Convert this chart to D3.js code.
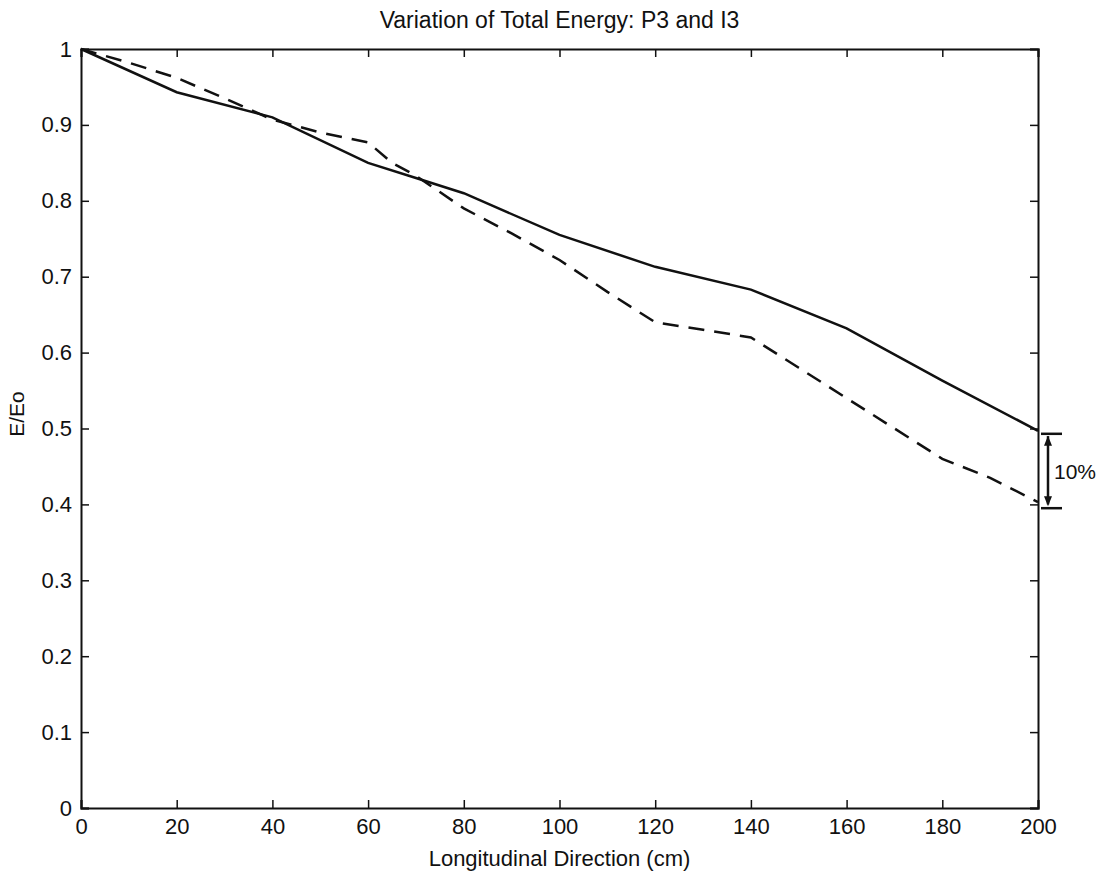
<!DOCTYPE html>
<html>
<head>
<meta charset="utf-8">
<script src="https://cdn.jsdelivr.net/npm/d3@7"></script>
<style>
  body { margin: 0; background: #fff; }
  text { font-family: "Liberation Sans", Arial, sans-serif; fill: #111; }
</style>
</head>
<body>
<svg width="1102" height="876"></svg>
<script>
// solid curve
const solidX = [0, 20, 40, 60, 70, 80, 100, 120, 140, 160, 180, 200];
const solidY = [1.0, 0.943, 0.91, 0.85, 0.83, 0.81, 0.755, 0.713, 0.683, 0.632, 0.563, 0.497];
// dashed curve
const dashX = [0, 10, 20, 30, 40, 50, 60, 65, 70, 80, 90, 100, 110, 120, 130, 140, 150, 160, 170, 180, 190, 200];
const dashY = [1.0, 0.982, 0.962, 0.935, 0.907, 0.89, 0.877, 0.85, 0.833, 0.79, 0.757, 0.722, 0.68, 0.64, 0.63, 0.62, 0.58, 0.54, 0.5, 0.46, 0.435, 0.403];
const xTicks = [0, 20, 40, 60, 80, 100, 120, 140, 160, 180, 200];
const yTicks = [0, 0.1, 0.2, 0.3, 0.4, 0.5, 0.6, 0.7, 0.8, 0.9, 1];

const svg = d3.select('svg');
const width = +svg.attr('width');
const height = +svg.attr('height');
const margin = {left: 81, right: 64, top: 49, bottom: 68};

const x = d3.scaleLinear().domain([0, 200]).range([margin.left, width - margin.right]);
const y = d3.scaleLinear().domain([0, 1]).range([height - margin.bottom, margin.top]);

const fmt = d => d === 0 || d === 1 ? String(d) : d3.format('.1f')(d);

// axes with inward ticks on all four sides
svg.append('g')
    .attr('transform', `translate(0,${y(0)})`)
    .call(d3.axisBottom(x).tickValues(xTicks).tickSize(-8).tickPadding(10))
    .call(g => g.selectAll('text').attr('font-size', 22));
svg.append('g')
    .attr('transform', `translate(0,${y(1)})`)
    .call(d3.axisTop(x).tickValues(xTicks).tickSize(-8).tickFormat(''));
svg.append('g')
    .attr('transform', `translate(${x(0)},0)`)
    .call(d3.axisLeft(y).tickValues(yTicks).tickSize(-8).tickPadding(9).tickFormat(fmt))
    .call(g => g.selectAll('text').attr('font-size', 22));
svg.append('g')
    .attr('transform', `translate(${x(200)},0)`)
    .call(d3.axisRight(y).tickValues(yTicks).tickSize(-8).tickFormat(''));

svg.selectAll('.domain').attr('stroke', '#111').attr('stroke-width', 2);
svg.selectAll('.tick line').attr('stroke', '#111').attr('stroke-width', 1.5);

const line = d3.line().x(d => x(d[0])).y(d => y(d[1]));

svg.append('path')
    .datum(d3.zip(solidX, solidY))
    .attr('d', line)
    .attr('fill', 'none')
    .attr('stroke', '#111')
    .attr('stroke-width', 2.5);

svg.append('path')
    .datum(d3.zip(dashX, dashY))
    .attr('d', line)
    .attr('fill', 'none')
    .attr('stroke', '#111')
    .attr('stroke-width', 2.5)
    .attr('stroke-dasharray', '16,10');

// 10% annotation bracket
const ax = x(200) + 10;
const ann = svg.append('g').attr('stroke', '#111').attr('stroke-width', 2.5);
ann.append('line').attr('x1', ax).attr('x2', ax).attr('y1', y(0.49)).attr('y2', y(0.4));
ann.append('line').attr('x1', ax - 7).attr('x2', ax + 14).attr('y1', y(0.493)).attr('y2', y(0.493));
ann.append('line').attr('x1', ax - 7).attr('x2', ax + 14).attr('y1', y(0.395)).attr('y2', y(0.395));
svg.append('path')
    .attr('d', `M${ax},${y(0.493) + 2}l-4,10h8z M${ax},${y(0.395) - 2}l-4,-10h8z`)
    .attr('fill', '#111');
svg.append('text')
    .attr('x', ax + 6)
    .attr('y', y(0.444) + 8)
    .attr('font-size', 21)
    .text('10%');

// titles
svg.append('text')
    .attr('x', (x(0) + x(200)) / 2)
    .attr('y', 28)
    .attr('text-anchor', 'middle')
    .attr('font-size', 23)
    .text('Variation of Total Energy: P3 and I3');

svg.append('text')
    .attr('x', (x(0) + x(200)) / 2)
    .attr('y', 866)
    .attr('text-anchor', 'middle')
    .attr('font-size', 22)
    .text('Longitudinal Direction (cm)');

svg.append('text')
    .attr('transform', `translate(24,414) rotate(-90)`)
    .attr('text-anchor', 'middle')
    .attr('font-size', 21)
    .text('E/Eo');
</script>
</body>
</html>
